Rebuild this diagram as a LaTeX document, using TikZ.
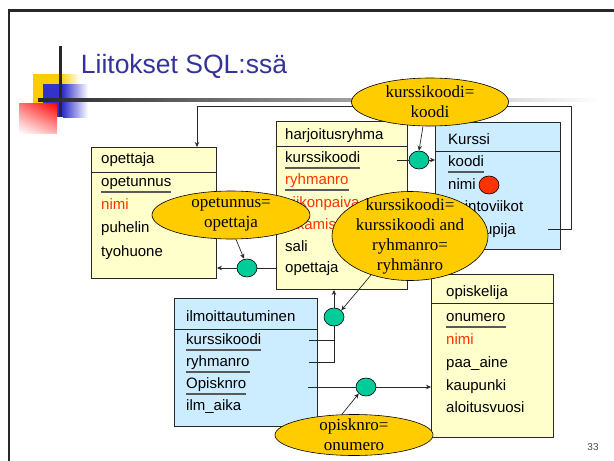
\documentclass[tikz,border=0pt]{standalone}
\usepackage{fontspec}
\setmainfont{Liberation Serif}
\setsansfont{Liberation Sans}
\usetikzlibrary{calc,shapes.geometric,arrows.meta,shadings}

\definecolor{rowyellow}{RGB}{255,255,204}
\definecolor{rowblue}{RGB}{204,236,255}
\definecolor{condgold}{RGB}{255,204,0}
\definecolor{joingreen}{RGB}{0,204,153}
\definecolor{attrred}{RGB}{255,51,0}
\definecolor{titleblue}{RGB}{51,51,153}
\definecolor{squareblue}{RGB}{51,51,204}
\definecolor{framegray}{RGB}{40,40,40}

\pgfdeclarelayer{back}
\pgfdeclarelayer{front}
\pgfsetlayers{back,main,front}

\tikzset{
  relbox/.style={draw=framegray, line width=1pt, anchor=north west, inner sep=0pt},
  attr/.style={anchor=west, inner sep=0pt, text height=11pt, text depth=3pt, font=\sffamily\fontsize{15}{18}\selectfont},
  redattr/.style={attr, text=attrred},
  keyline/.style={draw=black!65, line width=1.3pt},
  cond/.style={ellipse, draw=black, line width=0.6pt, fill=condgold, align=center, inner xsep=0pt, inner ysep=-10pt, font=\fontsize{17}{20}\selectfont},
  joint/.style={ellipse, draw=black, line width=0.6pt, fill=joingreen, minimum width=20pt, minimum height=18pt, inner sep=0pt},
  link/.style={draw=framegray, line width=0.7pt},
  linkarr/.style={link, -{Stealth[length=5pt,width=4.5pt]}},
}

\begin{document}
\begin{tikzpicture}[x=1pt,y=-1pt]
\useasboundingbox (0,0) rectangle (614,461);

% relations
\begin{pgfonlayer}{back}
\fill[white] (0,0) rectangle (614,461);
\node[relbox, fill=rowyellow, minimum width=125pt, minimum height=131pt] (opettaja) at (91,147) {};
\node[relbox, fill=rowyellow, minimum width=131pt, minimum height=168pt] (harj) at (276,121) {};
\node[relbox, fill=rowblue, minimum width=125pt, minimum height=127pt] (kurssi) at (435,122) {};
\node[relbox, fill=rowblue, minimum width=143pt, minimum height=128pt] (ilmo) at (174,298) {};
\node[relbox, fill=rowyellow, minimum width=122pt, minimum height=163pt] (opiskelija) at (431,274) {};
\draw[framegray, line width=1pt] ($(opettaja.north west)+(0,25)$) -- ($(opettaja.north east)+(0,25)$);
\draw[framegray, line width=1pt] ($(harj.north west)+(0,25)$) -- ($(harj.north east)+(0,25)$);
\draw[framegray, line width=1pt] ($(kurssi.north west)+(0,29)$) -- ($(kurssi.north east)+(0,29)$);
\draw[framegray, line width=1pt] ($(ilmo.north west)+(0,31)$) -- ($(ilmo.north east)+(0,31)$);
\draw[framegray, line width=1pt] ($(opiskelija.north west)+(0,29)$) -- ($(opiskelija.north east)+(0,29)$);
\end{pgfonlayer}

% slide frame and title
\fill[framegray] (7.5,9) rectangle (614,12);
\fill[framegray] (7.5,9) rectangle (10,461);
\fill[condgold] (33,74) rectangle (60,103);
\shade[left color=condgold, right color=white] (60,74) rectangle (80,103);
\fill[squareblue] (43,84) rectangle (63,117);
\shade[left color=squareblue, right color=white] (63,84) rectangle (88,117);
\shade[upper left=red!55!white, upper right=red, lower left=white, lower right=red!30!white] (19,103) rectangle (57,133);
\fill[framegray] (59,46) rectangle (61.5,117);
\shade[left color=framegray, right color=white] (38,98) rectangle (600,101);
\node[font=\sffamily\fontsize{26.5}{30}\selectfont, text=titleblue, inner sep=0pt] (title) at (184,66) {Liitokset SQL:ssä};
\node[font=\sffamily\fontsize{10}{12}\selectfont, text=black!70, inner sep=0pt] (pageNo) at (593,447) {33};

\node[attr] (opeHead) at (101,159) {opettaja};
\node[attr] (opeKey) at (101,182) {opetunnus};
\node[redattr] (opeNimi) at (101,205) {nimi};
\node[attr] (opePuh) at (101,228) {puhelin};
\node[attr] (opeTyo) at (101,252) {tyohuone};

\node[attr] (harjHead) at (285,135) {harjoitusryhma};
\node[attr] (harjKurssi) at (285,158) {kurssikoodi};
\node[redattr] (harjRyhma) at (285,180) {ryhmanro};
\node[redattr] (harjPaiva) at (285,203) {viikonpaiva};
\node[redattr] (harjAlku) at (285,225) {alkamisaika};
\node[attr] (harjSali) at (285,247) {sali};
\node[attr] (harjOpe) at (285,268) {opettaja};

\node[attr] (kurssiHead) at (448,140) {Kurssi};
\node[attr] (kurssiKoodi) at (448,162) {koodi};
\node[attr] (kurssiNimi) at (448,185) {nimi};
\node[attr] (kurssiOv) at (448,207) {opintoviikot};
\node[attr] (kurssiVast) at (448,230) {vastuupija};
\node[ellipse, draw=black, line width=0.6pt, fill=attrred, minimum width=20pt, minimum height=18pt, inner sep=0pt] (nimiDot) at (489,185) {};

\node[attr] (ilmoHead) at (186,317) {ilmoittautuminen};
\node[attr] (ilmoKurssi) at (186,340) {kurssikoodi};
\node[attr] (ilmoRyhma) at (186,362) {ryhmanro};
\node[attr] (ilmoOpis) at (186,384) {Opisknro};
\node[attr] (ilmoAika) at (186,406) {ilm\_aika};

\node[attr] (opisHead) at (446,292) {opiskelija};
\node[attr] (opisKey) at (446,317) {onumero};
\node[redattr] (opisNimi) at (446,340) {nimi};
\node[attr] (opisAine) at (446,363) {paa\_aine};
\node[attr] (opisKaup) at (446,386) {kaupunki};
\node[attr] (opisAlku) at (446,408) {aloitusvuosi};

\foreach \k in {opeKey,harjKurssi,harjRyhma,kurssiKoodi,ilmoKurssi,ilmoRyhma,ilmoOpis,opisKey}
  \draw[keyline] ([yshift=-6pt]\k.base west) -- ([yshift=-6pt]\k.base east);

% join conditions
\begin{pgfonlayer}{front}
\node[cond, minimum width=157pt, minimum height=48pt] (condKurssi) at (430,102) {kurssikoodi=\\koodi};
\node[cond, minimum width=158pt, minimum height=48pt] (condOpe) at (231,215) {opetunnus=\\opettaja};
\node[cond, minimum width=156pt, minimum height=89pt] (condRyhma) at (410,236) {kurssikoodi=\\kurssikoodi and\\ryhmanro=\\ryhmänro};
\node[cond, minimum width=158pt, minimum height=41pt] (condOpis) at (354,435) {opisknro=\\onumero};
\end{pgfonlayer}

\node[joint] (jKurssi) at (419,160) {};
\node[joint] (jOpe) at (247,268) {};
\node[joint] (jIlmo) at (334,317) {};
\node[joint] (jOpis) at (366,387) {};

\coordinate (hkEnd) at (397,160);
\coordinate (kvEnd) at (548,229);
\coordinate (loopTR) at (571,106);
\coordinate (loopTL) at (197,106);
\coordinate (hoEnd) at (277,268);
\coordinate (ikEnd) at (309,340);
\coordinate (irEnd) at (309,362);
\coordinate (ioEnd) at (308,387);

\draw[link] (hkEnd) -- (jKurssi);
\draw[linkarr] (jKurssi) -- (jKurssi -| kurssi.west);
\draw[linkarr] ([xshift=-7pt]condKurssi.south) -- (jKurssi.north);

\draw[linkarr] (kvEnd) -| (loopTR) -- (loopTL) -- (loopTL |- opettaja.north);

\draw[link] (hoEnd) -- (jOpe);
\draw[linkarr] (jOpe) -- (jOpe -| opettaja.east);
\draw[linkarr] ([xshift=5pt]condOpe.south) -- ([xshift=-3pt]jOpe.north);

\draw[link] (ikEnd) -- (ikEnd -| jIlmo);
\draw[link] (irEnd) -| (jIlmo);
\draw[linkarr] (jIlmo) -- (jIlmo |- harj.south);
\draw[linkarr] (condRyhma.225) -- (jIlmo.north east);

\draw[link] (ioEnd) -- (jOpis);
\draw[linkarr] (jOpis) -- (jOpis -| opiskelija.west);
\draw[linkarr] ([xshift=-12pt]condOpis.north) -- (jOpis.south west);

\end{tikzpicture}
\end{document}
